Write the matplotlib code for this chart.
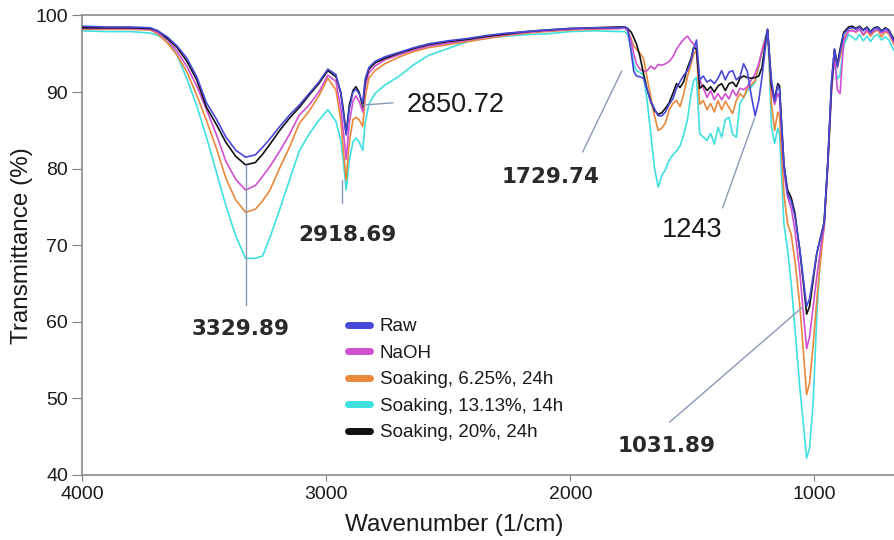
import matplotlib
matplotlib.use("Agg")
import matplotlib.pyplot as plt

plt.rcParams['font.family'] = ['Liberation Sans', 'DejaVu Sans']

# wavenumber grid (1/cm)
wavenumber = [
    4000, 3900, 3800, 3720, 3690, 3650, 3610, 3570, 3530, 3490,
    3450, 3410, 3370, 3330, 3290, 3260, 3230, 3190, 3150, 3110,
    3070, 3030, 2993, 2960, 2940, 2930, 2918, 2905, 2890, 2878,
    2865, 2850, 2840, 2825, 2800, 2760, 2700, 2640, 2580, 2500,
    2420, 2340, 2260, 2180, 2100, 2000, 1900, 1800,
    1777, 1765, 1750, 1740, 1729, 1715, 1700, 1685, 1670, 1655,
    1640, 1625, 1610, 1595, 1580, 1565, 1550, 1535, 1520, 1505,
    1495, 1483,
    1470, 1455, 1440, 1425, 1410, 1395, 1380, 1365, 1350, 1335,
    1320, 1305, 1290, 1275, 1260, 1243, 1228, 1215, 1200, 1192,
    1185, 1176, 1163, 1150, 1143,
    1125, 1110, 1095, 1080, 1060, 1045, 1032, 1020, 1005, 990,
    975, 960, 945, 930, 918, 906, 895, 880, 860,
    845, 830, 815, 800, 785, 770, 755, 740, 725, 710, 695, 680, 670,
]

raw = [
    98.6, 98.5, 98.5, 98.4, 98.0, 97.2, 96.0, 94.4, 92.0, 88.6,
    86.5, 84.1, 82.4, 81.5, 81.8, 82.8, 83.9, 85.5, 87.0, 88.3,
    89.8, 91.3, 93.0, 92.3, 89.8, 87.3, 84.4, 87.8, 90.0, 90.4,
    89.8, 88.6, 91.7, 93.2, 94.0, 94.6, 95.2, 95.8, 96.3, 96.7,
    97.0, 97.4, 97.7, 97.9, 98.1, 98.3, 98.4, 98.4,
    98.5, 98.3, 95.1, 92.7, 92.1, 92.0, 91.8, 90.3, 88.8, 87.8,
    86.9, 86.9, 87.4, 88.4, 89.1, 90.5, 91.4, 92.2, 92.8, 94.2,
    95.6, 96.8,
    91.6, 92.1, 91.3, 91.6, 91.1, 91.8, 92.8, 91.6, 92.6, 92.8,
    91.6, 92.0, 93.7, 92.7, 89.8, 86.9, 88.9, 91.9, 96.1, 98.2,
    95.1, 91.6, 88.8, 90.8, 90.3,
    80.6, 76.7, 75.7, 73.8, 69.5, 65.5, 62.0, 63.0, 66.0, 69.0,
    71.0, 73.0, 81.0, 91.5, 95.6, 93.3, 95.2, 97.6, 98.3,
    98.4, 98.2, 98.5, 98.0, 98.4, 97.8, 98.3, 98.4, 97.9, 98.3, 98.0, 97.0, 96.5,
]

naoh = [
    98.3, 98.3, 98.3, 98.2, 97.8, 96.8, 95.3, 93.3, 90.8, 87.7,
    84.5, 80.9, 78.6, 77.2, 77.8, 79.0, 80.3, 82.3, 84.5, 87.0,
    88.3, 90.0, 92.2, 91.4, 87.9, 85.0, 81.2, 86.0, 88.8, 89.5,
    88.8, 87.4, 90.8, 92.5, 93.4, 94.2, 94.9, 95.5, 96.0, 96.4,
    96.8, 97.2, 97.5, 97.8, 98.0, 98.2, 98.3, 98.3,
    98.4, 98.0, 96.6, 95.0, 93.7, 93.0, 92.7, 92.8, 93.4, 93.0,
    93.6, 93.5, 93.7, 94.0, 94.6, 95.6, 96.3, 96.9, 97.3, 96.6,
    96.3, 95.6,
    91.6, 90.5, 89.3, 90.2, 89.0, 89.8, 89.0, 89.8, 89.1, 90.3,
    89.5, 90.5, 90.3, 90.7, 91.5, 92.4, 93.7, 95.4, 96.9, 98.0,
    95.1, 90.3, 88.4, 89.8, 89.3,
    79.6, 76.3, 74.8, 72.0, 66.5, 61.0, 56.5, 58.0, 62.0, 66.0,
    69.5, 72.5, 80.5, 90.3, 94.7, 90.3, 89.8, 96.6, 98.0,
    98.0, 97.9, 98.2, 97.5, 98.1, 97.6, 98.0, 98.2, 97.7, 98.0, 97.8, 96.8, 96.3,
]

soak_625 = [
    98.2, 98.2, 98.2, 98.1, 97.6, 96.4, 94.8, 92.6, 89.6, 86.3,
    82.7, 78.7, 75.9, 74.3, 74.7, 75.8, 77.2, 80.1, 82.8, 85.9,
    87.5, 89.5, 91.8, 90.3, 86.4, 82.6, 78.5, 83.5, 86.4, 86.7,
    86.4, 85.5, 89.3, 91.8, 92.8, 93.7, 94.6, 95.3, 95.8, 96.2,
    96.6, 97.0, 97.4, 97.7, 97.9, 98.1, 98.2, 98.3,
    98.4, 98.0, 96.9, 96.0, 95.6, 95.1, 94.4, 91.8, 89.3, 86.9,
    85.0, 85.3, 86.0, 87.7, 88.5, 88.9, 88.1, 89.8, 92.0, 93.7,
    94.9, 95.4,
    88.4, 88.9, 87.7, 88.5, 87.4, 88.9, 87.7, 88.8, 88.0, 87.2,
    88.9, 89.8, 89.3, 90.5, 90.9, 91.5, 93.4, 95.4, 97.1, 98.0,
    94.2, 88.4, 85.0, 87.4, 86.9,
    76.7, 72.8, 71.4, 68.0, 62.2, 56.0, 50.5, 52.0, 57.0, 63.0,
    68.0, 72.5, 80.5, 90.3, 95.1, 93.2, 94.6, 97.0, 98.0,
    98.1, 97.8, 98.3, 97.4, 98.0, 97.3, 97.9, 98.1, 97.2, 97.9, 97.6, 96.6, 96.0,
]

soak_1313 = [
    98.0, 97.9, 97.9, 97.7, 97.4, 96.8, 94.8, 91.7, 88.2, 84.1,
    79.6, 75.1, 71.2, 68.3, 68.3, 68.6, 71.0, 74.7, 78.5, 82.3,
    84.5, 86.3, 87.7, 86.2, 83.7, 81.1, 77.2, 81.1, 83.5, 84.0,
    83.5, 82.4, 86.0, 88.4, 89.8, 90.9, 92.1, 93.6, 94.8, 95.7,
    96.6, 97.1, 97.3, 97.5, 97.6, 97.9, 98.0, 97.9,
    97.9, 97.5, 95.6, 93.7, 92.8, 92.6, 92.2, 88.8, 84.5, 80.1,
    77.6, 79.1, 79.9, 81.1, 81.8, 82.3, 83.0, 84.5, 86.4, 89.8,
    91.5, 91.9,
    84.6, 84.1, 83.7, 84.6, 83.2, 85.4, 84.1, 86.4, 86.7, 84.5,
    84.1, 88.5, 89.3, 90.2, 90.6, 91.3, 93.2, 95.2, 97.4, 98.0,
    93.2, 85.5, 83.3, 85.3, 84.5,
    72.8, 69.4, 65.0, 59.2, 51.5, 46.5, 42.2, 43.5, 49.5, 61.0,
    69.0, 73.3, 80.8, 90.3, 94.2, 91.7, 92.2, 96.1, 97.5,
    97.2, 96.8, 97.5, 96.7, 97.3, 96.6, 97.3, 97.5, 96.8, 97.2, 96.8, 95.8, 95.2,
]

soak_20 = [
    98.4, 98.4, 98.4, 98.3, 98.0, 97.0, 95.8, 94.0, 91.6, 88.0,
    85.8, 83.4, 81.6, 80.5, 80.8, 81.9, 83.2, 85.0, 86.6, 88.0,
    89.6, 91.1, 92.8, 92.0, 90.0, 87.8, 84.6, 88.3, 90.2, 90.7,
    90.0, 88.1, 91.4, 93.0, 93.8, 94.4, 95.1, 95.7, 96.2, 96.6,
    96.9, 97.3, 97.6, 97.9, 98.1, 98.3, 98.4, 98.5,
    98.5, 98.3, 97.8, 97.1, 96.3, 94.7, 92.4, 90.3, 88.7, 87.6,
    87.1, 87.3, 87.9, 88.6, 89.8, 91.1, 90.6, 91.4, 93.2, 94.4,
    95.8, 95.6,
    90.5, 90.9, 90.2, 90.7, 90.0, 90.8, 91.1, 90.2, 91.1, 91.3,
    90.7, 91.8, 92.1, 91.9, 91.8, 91.9, 92.1, 93.2, 96.6, 98.2,
    95.1, 90.8, 89.1, 91.1, 90.8,
    80.6, 77.2, 76.2, 74.2, 69.3, 65.0, 61.0, 62.0, 65.5, 69.0,
    71.0, 73.0, 81.0, 91.0, 95.6, 93.6, 95.6, 97.8, 98.5,
    98.6, 98.3, 98.6, 98.1, 98.5, 97.9, 98.4, 98.5, 98.0, 98.4, 98.1, 97.2, 96.8,
]

series = [raw, naoh, soak_625, soak_1313, soak_20]
labels = ['Raw', 'NaOH', 'Soaking, 6.25%, 24h', 'Soaking, 13.13%, 14h', 'Soaking, 20%, 24h']
colors = ['#4848d8', '#d050d0', '#e8893c', '#40e0e0', '#111111']
zorders = [6, 4, 3, 2, 5]

# peak labels: text, text position, leader line ends, bold (Verdana-like) or plain
peak_text = ['3329.89', '2918.69', '2850.72', '1729.74', '1243', '1031.89']
peak_text_xy = [(3349, 58.3), (2911, 70.6), (2469, 87.4), (2080, 78.1), (1501, 71.1), (1605, 43.0)]
peak_line_from = [(3329, 62.2), (2935, 75.5), (2727, 88.6), (1949, 82.2), (1376, 74.9), (1593, 46.9)]
peak_line_to = [(3329, 80.5), (2935, 78.5), (2850, 88.3), (1790, 92.7), (1245, 86.6), (1049, 61.9)]
peak_bold = [True, True, False, True, False, True]

fig = plt.figure(figsize=(8.95, 5.4), dpi=100)
ax = fig.add_axes([0.0916, 0.1204, 0.9084, 0.8509])

for ys, lab, c, z in zip(series, labels, colors, zorders):
    ax.plot(wavenumber, ys, color=c, lw=1.2, label=lab, zorder=z)

for t, (tx, ty), (x0, y0), (x1, y1), b in zip(peak_text, peak_text_xy, peak_line_from, peak_line_to, peak_bold):
    ax.plot([x0, x1], [y0, y1], color='#8a9ab8', lw=1.0, zorder=7)
    if b:
        ax.text(tx, ty, t, ha='center', va='baseline', fontsize=15.5, fontweight='bold',
                family=['DejaVu Sans'], color='#2a2a2a', zorder=8)
    else:
        ax.text(tx, ty, t, ha='center', va='baseline', fontsize=19.5,
                color='#1a1a1a', zorder=8)

ax.set_xlim(4000, 670)
ax.set_ylim(40, 100)
ax.set_xticks([4000, 3000, 2000, 1000])
ax.set_yticks([40, 50, 60, 70, 80, 90, 100])
ax.tick_params(axis='both', labelsize=14, colors='#808080', labelcolor='#1a1a1a', direction='out')
ax.tick_params(axis='y', length=7, pad=3)
ax.tick_params(axis='x', length=4, pad=4)

for s in ['left', 'bottom', 'top']:
    ax.spines[s].set_color('#8c8c8c')
    ax.spines[s].set_linewidth(1.2)
ax.spines['right'].set_visible(False)

ax.set_xlabel('Wavenumber (1/cm)', fontsize=17.5, color='#1a1a1a')
ax.set_ylabel('Transmittance (%)', fontsize=17.5, color='#1a1a1a')
ax.xaxis.set_label_coords(0.4576, -0.085)
ax.yaxis.set_label_coords(-0.060, 0.50)

leg = ax.legend(loc='upper left', bbox_to_anchor=(0.327, 0.341), frameon=False,
                fontsize=13.5, handlelength=1.2, handletextpad=0.5,
                labelspacing=0.5, borderpad=0, borderaxespad=0)
for h in leg.get_lines():
    h.set_linewidth(5)
    h.set_solid_capstyle('round')
for txt in leg.get_texts():
    txt.set_color('#1a1a1a')

fig.savefig('out.png', dpi=100)
